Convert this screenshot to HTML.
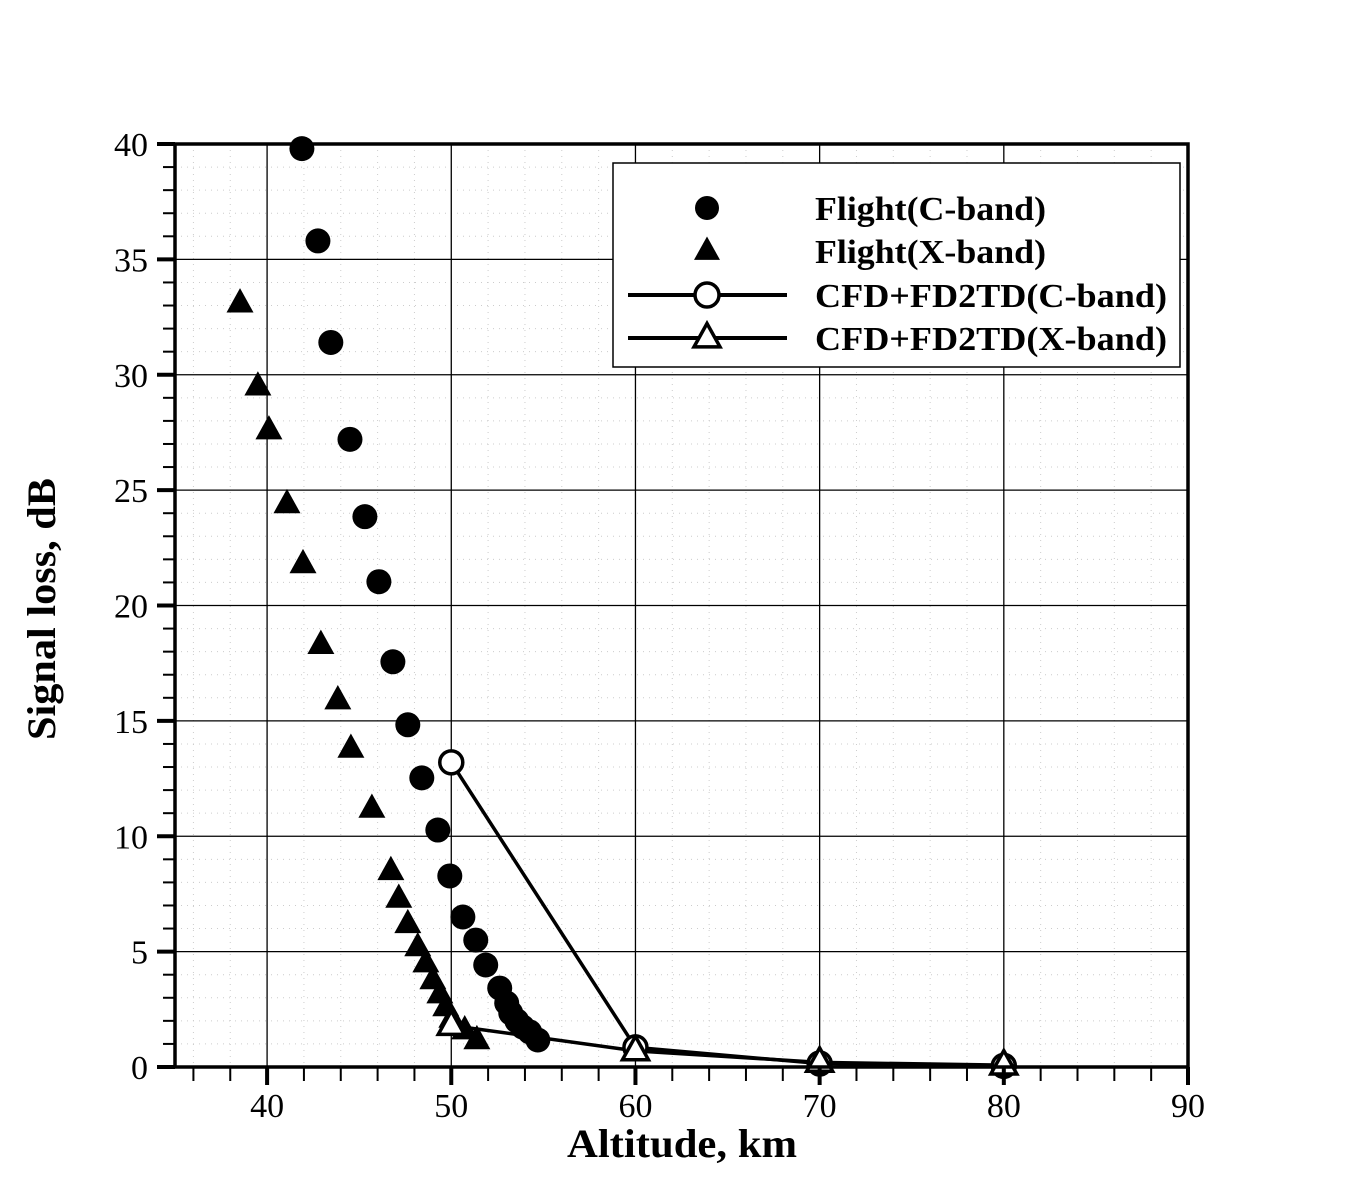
<!DOCTYPE html>
<html><head><meta charset="utf-8"><style>
html,body{margin:0;padding:0;background:#fff;}
svg{display:block;font-family:"Liberation Serif",serif;}
</style></head><body>
<svg id="chart" width="1350" height="1200" xmlns="http://www.w3.org/2000/svg"></svg>
<script>
const xTicks=[40,50,60,70,80,90];
const yTicks=[0,5,10,15,20,25,30,35,40];
const flightCAlt=[41.89,42.76,43.46,44.5,45.31,46.07,46.83,47.64,48.4,49.27,49.92,50.63,51.33,51.87,52.63,53.01,53.23,53.56,53.88,54.26,54.7];
const flightCLoss=[39.8,35.8,31.4,27.2,23.85,21.03,17.56,14.83,12.53,10.27,8.28,6.5,5.5,4.42,3.42,2.77,2.34,2.0,1.73,1.52,1.17];
const flightXAlt=[38.53,39.5,40.1,41.08,41.95,42.92,43.84,44.55,45.69,46.72,47.15,47.64,48.18,48.62,49.0,49.38,49.7,50.03,50.73,51.39];
const flightXLoss=[33.1,29.5,27.6,24.4,21.8,18.3,15.9,13.8,11.2,8.5,7.3,6.2,5.2,4.5,3.77,3.16,2.6,2.1,1.6,1.17];
const cfdCAlt=[50,60,70,80];
const cfdCLoss=[13.2,0.85,0.15,0.05];
const cfdXAlt=[50,60,70,80];
const cfdXLoss=[1.8,0.7,0.2,0.08];
const legendLabels=["Flight(C-band)","Flight(X-band)","CFD+FD2TD(C-band)","CFD+FD2TD(X-band)"];

const NS="http://www.w3.org/2000/svg";
const svg=document.getElementById('chart');
const X0=175,X1=1188,Y0=1067,Y1=144,xmin=35,xmax=90,ymin=0,ymax=40;
const sx=v=>X0+(v-xmin)/(xmax-xmin)*(X1-X0);
const sy=v=>Y0-(v-ymin)/(ymax-ymin)*(Y0-Y1);
function mk(tag,attrs,parent){const e=document.createElementNS(NS,tag);for(const k in attrs)e.setAttribute(k,attrs[k]);(parent||svg).appendChild(e);return e;}

// minor dotted grid
for(let v=36;v<90;v+=2){if(v%10===0)continue;
 const l=mk('line',{x1:sx(v),x2:sx(v),y1:Y1,y2:Y0,stroke:'#ccc','stroke-width':1,'stroke-dasharray':'1,5'});
 
 }
for(let v=1;v<40;v++){if(v%5===0)continue;
 const l=mk('line',{x1:X0,x2:X1,y1:sy(v),y2:sy(v),stroke:'#ccc','stroke-width':1,'stroke-dasharray':'1,5'});
 
 }
// major grid
xTicks.forEach(v=>{if(v>=90)return;
 const l=mk('line',{x1:sx(v),x2:sx(v),y1:Y1,y2:Y0,stroke:'#000','stroke-width':1.3});
 
 });
yTicks.forEach(v=>{if(v===0||v===40)return;
 const l=mk('line',{x1:X0,x2:X1,y1:sy(v),y2:sy(v),stroke:'#000','stroke-width':1.3});
 
 });

function poly(xs,ys,name){const pts=xs.map((x,i)=>sx(x)+','+sy(ys[i])).join(' ');
 const p=mk('polyline',{points:pts,fill:'none',stroke:'#000','stroke-width':3.5});
 
 }
poly(cfdCAlt,cfdCLoss,'cfd-c-band-line');
poly(cfdXAlt,cfdXLoss,'cfd-x-band-line');

function tri(cx,cy,s,fill,sw){const h=s*0.9;
 return mk('polygon',{points:`${cx},${cy-h*0.62} ${cx-s/2},${cy+h*0.38} ${cx+s/2},${cy+h*0.38}`,fill:fill,stroke:'#000','stroke-width':sw});}

flightXAlt.forEach((a,i)=>{const t=tri(sx(a),sy(flightXLoss[i]),27,'#000',0);
 
 });
flightCAlt.forEach((a,i)=>{const c=mk('circle',{cx:sx(a),cy:sy(flightCLoss[i]),r:12.5,fill:'#000'});
 
 });
cfdCAlt.forEach((a,i)=>{const c=mk('circle',{cx:sx(a),cy:sy(cfdCLoss[i]),r:11.5,fill:'#fff',stroke:'#000','stroke-width':3.5});
 
 });
cfdXAlt.forEach((a,i)=>{const t=tri(sx(a),sy(cfdXLoss[i]),26,'#fff',3.5);
 
 });

const fr=mk('rect',{x:X0,y:Y1,width:X1-X0,height:Y0-Y1,fill:'none',stroke:'#000','stroke-width':3.5});



for(let v=36;v<=90;v+=2){const major=v%10===0;
 const t=mk('line',{x1:sx(v),x2:sx(v),y1:Y0,y2:Y0+(major?18:14),stroke:'#000','stroke-width':major?4:2});
 
 }
xTicks.forEach(v=>{const t=mk('text',{x:sx(v),y:1117,'font-size':34,'text-anchor':'middle',fill:'#000'});t.textContent=v;
 
 });
for(let v=1;v<40;v++){if(v%5===0)continue;
 const t=mk('line',{x1:X0-12,x2:X0,y1:sy(v),y2:sy(v),stroke:'#000','stroke-width':2});
 
 }
yTicks.forEach(v=>{const t=mk('line',{x1:X0-18,x2:X0,y1:sy(v),y2:sy(v),stroke:'#000','stroke-width':4});
 
 
 const l=mk('text',{x:148,y:sy(v)+12,'font-size':34,'text-anchor':'end',fill:'#000'});l.textContent=v;
 
 });

const xt=mk('text',{x:567,y:1157,'font-size':40,'font-weight':'bold',fill:'#000',textLength:230,lengthAdjust:'spacingAndGlyphs'});xt.textContent='Altitude, km';


const yt=mk('text',{x:0,y:0,'font-size':40,'font-weight':'bold',fill:'#000',textLength:262,lengthAdjust:'spacingAndGlyphs',transform:'translate(55,740) rotate(-90)'});yt.textContent='Signal loss, dB';



const lg=mk('g',{});


mk('rect',{x:613,y:163,width:567,height:204,fill:'#fff',stroke:'#000','stroke-width':1.5},lg);
const ly=[208,251,295,338];
const lw=[231,231,352,352];
legendLabels.forEach((lab,i)=>{const g=mk('g',{},lg);
 
 
 const y=ly[i];
 if(i>=2)mk('line',{x1:628,x2:787,y1:y,y2:y,stroke:'#000','stroke-width':4},g);
 if(i===0)mk('circle',{cx:707,cy:y,r:12,fill:'#000'},g);
 if(i===1)g.appendChild(tri(707,y,26,'#000',0));
 if(i===2)mk('circle',{cx:707,cy:y,r:12,fill:'#fff',stroke:'#000','stroke-width':3.5},g);
 if(i===3)g.appendChild(tri(707,y,26,'#fff',3.5));
 const t=mk('text',{x:815,y:y+12,'font-size':34,'font-weight':'bold',fill:'#000',textLength:lw[i],lengthAdjust:'spacingAndGlyphs'},g);
 t.textContent=lab;});
</script>
</body></html>
